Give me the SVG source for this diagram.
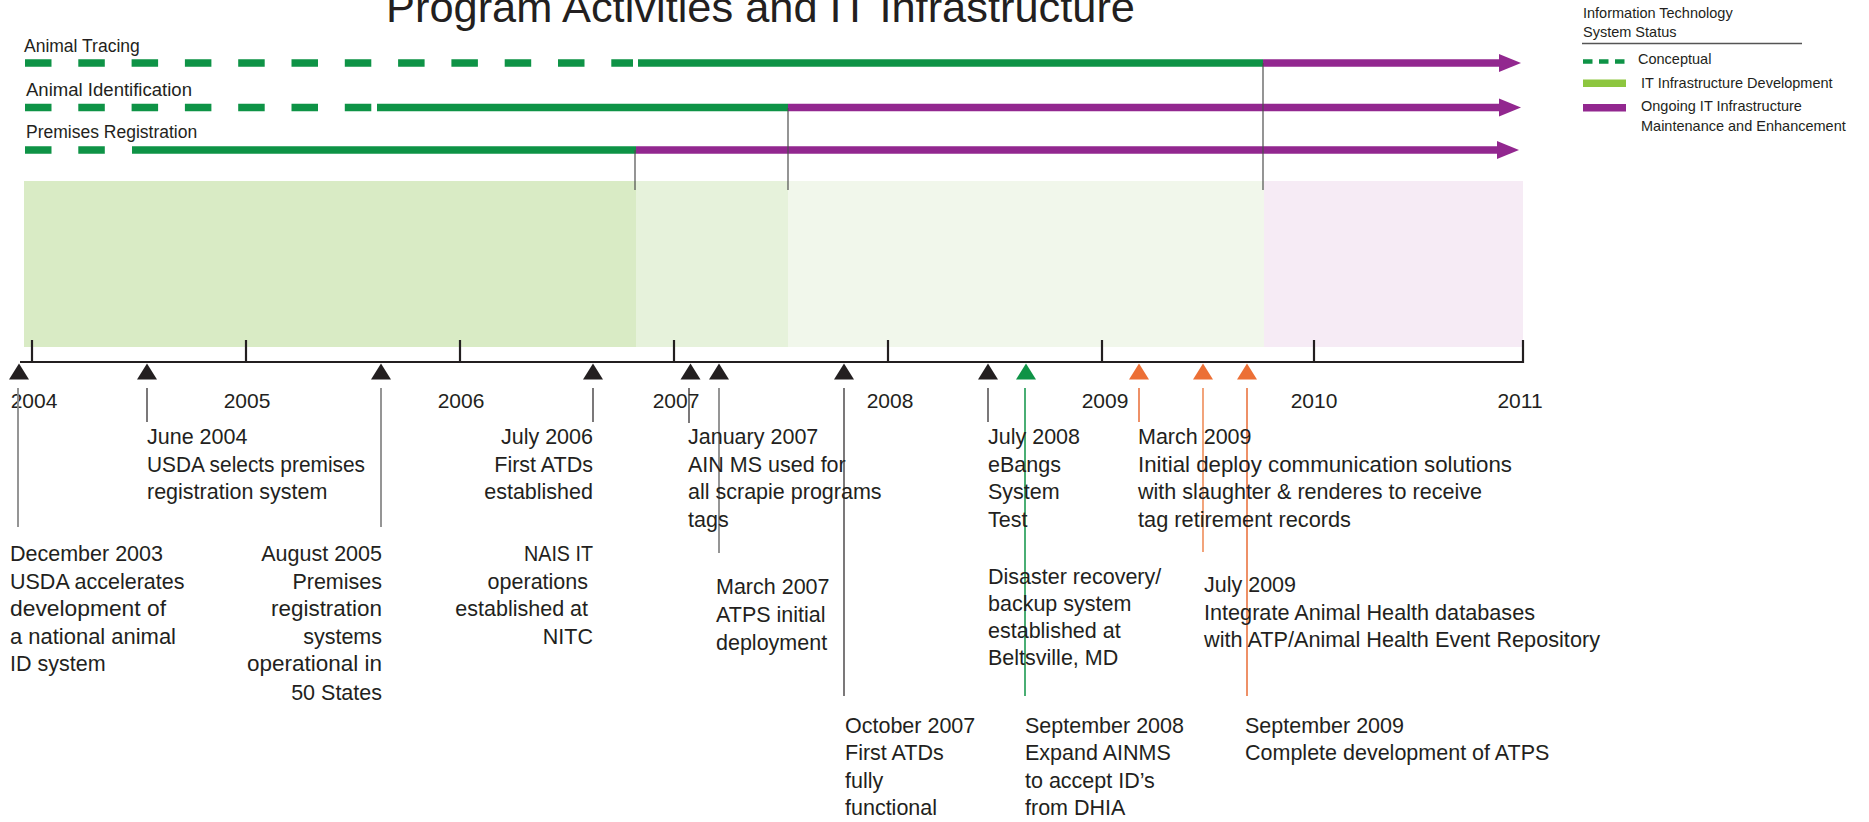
<svg xmlns="http://www.w3.org/2000/svg" width="1869" height="822" viewBox="0 0 1869 822">
<style>
text{font-family:"Liberation Sans",Arial,sans-serif;fill:#231f20}
.ev{font-size:21.5px}
.yr{font-size:21px;text-anchor:middle}
.trk{font-size:17.5px}
.lg{font-size:14.5px}
.end{text-anchor:end}
.dash{stroke:#0e9346;stroke-width:7.5;stroke-dasharray:26.5 26.8;fill:none}
.dev{stroke:#0e9346;stroke-width:7.5;fill:none}
.mnt{stroke:#92278f;stroke-width:7.5;fill:none}
.sep{stroke:#4d4d4d;stroke-width:1.2}
.tick{stroke:#231f20;stroke-width:2.2}
.ld{stroke:#231f20;stroke-width:1.2}
.ldg{stroke:#8a8a8a;stroke-width:1.8}
.ldgr{stroke:#0e9346;stroke-width:1.5}
.ldo{stroke:#e96b35;stroke-width:1.5}
.ldlo{stroke:#f19a6c;stroke-width:1.8}
.tri{fill:#231f20}
.trig{fill:#0e9346}
.trio{fill:#ec6f35}
</style>
<defs>
<polygon id="ah" points="0,-9 22,0 0,9" fill="#92278f"/>
<polygon id="tr" points="0,0 -10,16 10,16"/>
</defs>

<text id="title" x="386" y="22" font-size="43" textLength="749" lengthAdjust="spacingAndGlyphs">Program Activities and IT Infrastructure</text>

<g id="bands">
<rect x="24" y="181" width="612" height="166" fill="#d9ebc5"/>
<rect x="636" y="181" width="152" height="166" fill="#e6f2db"/>
<rect x="788" y="181" width="476" height="166" fill="#f1f7eb"/>
<rect x="1264" y="181" width="259" height="166" fill="#f6ebf5"/>
</g>

<g id="track-animal-tracing">
<text class="trk" x="24" y="52">Animal Tracing</text>
<line class="dash" x1="25" y1="63" x2="633" y2="63"/>
<line class="dev" x1="638" y1="63" x2="1263" y2="63"/>
<line class="mnt" x1="1263" y1="63" x2="1502" y2="63"/>
<use href="#ah" x="1499" y="63"/>
</g>
<g id="track-animal-identification">
<text class="trk" x="26" y="96" textLength="166" lengthAdjust="spacingAndGlyphs">Animal Identification</text>
<line class="dash" x1="25" y1="107.5" x2="372" y2="107.5"/>
<line class="dev" x1="377" y1="107.5" x2="788" y2="107.5"/>
<line class="mnt" x1="788" y1="107.5" x2="1502" y2="107.5"/>
<use href="#ah" x="1499" y="107.5"/>
</g>
<g id="track-premises-registration">
<text class="trk" x="26" y="138">Premises Registration</text>
<line class="dash" x1="25" y1="150" x2="107" y2="150"/>
<line class="dev" x1="132" y1="150" x2="636" y2="150"/>
<line class="mnt" x1="636" y1="150" x2="1500" y2="150"/>
<use href="#ah" x="1497" y="150"/>
</g>
<g id="phase-separators">
<line class="sep" x1="635" y1="150" x2="635" y2="190"/>
<line class="sep" x1="788" y1="108" x2="788" y2="190"/>
<line class="sep" x1="1263" y1="63" x2="1263" y2="190"/>
</g>

<g id="legend">
<text class="lg" x="1583" y="18">Information Technology</text>
<text class="lg" x="1583" y="37">System Status</text>
<line x1="1582" y1="43.5" x2="1802" y2="43.5" stroke="#555" stroke-width="1.3"/>
<line x1="1583" y1="61.5" x2="1625" y2="61.5" stroke="#0e9346" stroke-width="4.5" stroke-dasharray="9.5 6.5"/>
<text class="lg" x="1638" y="64">Conceptual</text>
<rect x="1583" y="79.5" width="43" height="7.5" fill="#8dc63f"/>
<text class="lg" x="1641" y="88">IT Infrastructure Development</text>
<rect x="1583" y="104" width="43" height="7.5" fill="#92278f"/>
<text class="lg" x="1641" y="111">Ongoing IT Infrastructure</text>
<text class="lg" x="1641" y="131">Maintenance and Enhancement</text>
</g>

<g id="timeline">
<line class="tick" x1="20" y1="362" x2="1524" y2="362"/>
<line class="tick" x1="32" y1="340" x2="32" y2="362"/>
<line class="tick" x1="246" y1="340" x2="246" y2="362"/>
<line class="tick" x1="460" y1="340" x2="460" y2="362"/>
<line class="tick" x1="674" y1="340" x2="674" y2="362"/>
<line class="tick" x1="888" y1="340" x2="888" y2="362"/>
<line class="tick" x1="1102" y1="340" x2="1102" y2="362"/>
<line class="tick" x1="1314" y1="340" x2="1314" y2="362"/>
<line class="tick" x1="1523" y1="340" x2="1523" y2="363"/>
<text class="yr" x="34" y="408">2004</text>
<text class="yr" x="247" y="408">2005</text>
<text class="yr" x="461" y="408">2006</text>
<text class="yr" x="676" y="408">2007</text>
<text class="yr" x="890" y="408">2008</text>
<text class="yr" x="1105" y="408">2009</text>
<text class="yr" x="1314" y="408">2010</text>
<text class="yr" x="1520" y="408">2011</text>
</g>

<g id="connectors">
<line class="ldg" x1="18" y1="388" x2="18" y2="527"/>
<line class="ld" x1="147" y1="388" x2="147" y2="422"/>
<line class="ldg" x1="381" y1="388" x2="381" y2="527"/>
<line class="ld" x1="593" y1="388" x2="593" y2="422"/>
<line class="ld" x1="689" y1="388" x2="689" y2="423"/>
<line class="ldg" x1="719" y1="388" x2="719" y2="553"/>
<line class="ld" x1="844" y1="388" x2="844" y2="696"/>
<line class="ld" x1="988" y1="388" x2="988" y2="422"/>
<line class="ldgr" x1="1025" y1="388" x2="1025" y2="696"/>
<line class="ldo" x1="1139" y1="388" x2="1139" y2="422"/>
<line class="ldlo" x1="1203" y1="388" x2="1203" y2="552"/>
<line class="ldo" x1="1247" y1="388" x2="1247" y2="696"/>
</g>

<g id="ev-dec2003">
<use href="#tr" class="tri" x="19" y="363.5"/>
<text class="ev" x="10" y="561">December 2003</text>
<text class="ev" x="10" y="588.5">USDA accelerates</text>
<text class="ev" x="10" y="616" textLength="156" lengthAdjust="spacingAndGlyphs">development of</text>
<text class="ev" x="10" y="643.5" textLength="166" lengthAdjust="spacingAndGlyphs">a national animal</text>
<text class="ev" x="10" y="671">ID system</text>
</g>
<g id="ev-jun2004">
<use href="#tr" class="tri" x="147" y="363.5"/>
<text class="ev" x="147" y="444">June 2004</text>
<text class="ev" x="147" y="471.5" textLength="218" lengthAdjust="spacingAndGlyphs">USDA selects premises</text>
<text class="ev" x="147" y="499">registration system</text>
</g>
<g id="ev-aug2005">
<use href="#tr" class="tri" x="381" y="363.5"/>
<text class="ev end" x="382" y="561">August 2005</text>
<text class="ev end" x="382" y="588.5">Premises</text>
<text class="ev end" x="382" y="616" textLength="111" lengthAdjust="spacingAndGlyphs">registration</text>
<text class="ev end" x="382" y="643.5">systems</text>
<text class="ev end" x="382" y="671" textLength="135" lengthAdjust="spacingAndGlyphs">operational in</text>
<text class="ev end" x="382" y="700">50 States</text>
</g>
<g id="ev-jul2006">
<use href="#tr" class="tri" x="593" y="363.5"/>
<text class="ev end" x="593" y="444">July 2006</text>
<text class="ev end" x="593" y="471.5">First ATDs</text>
<text class="ev end" x="593" y="499">established</text>
<text class="ev end" x="593" y="561" textLength="69" lengthAdjust="spacingAndGlyphs">NAIS IT</text>
<text class="ev end" x="588" y="588.5">operations</text>
<text class="ev end" x="588" y="616">established at</text>
<text class="ev end" x="593" y="643.5">NITC</text>
</g>
<g id="ev-jan2007">
<use href="#tr" class="tri" x="690.5" y="363.5"/>
<text class="ev" x="688" y="444">January 2007</text>
<text class="ev" x="688" y="471.5">AIN MS used for</text>
<text class="ev" x="688" y="499">all scrapie programs</text>
<text class="ev" x="688" y="526.5">tags</text>
</g>
<g id="ev-mar2007">
<use href="#tr" class="tri" x="719" y="363.5"/>
<text class="ev" x="716" y="593.5">March 2007</text>
<text class="ev" x="716" y="621.5">ATPS initial</text>
<text class="ev" x="716" y="649.5">deployment</text>
</g>
<g id="ev-oct2007">
<use href="#tr" class="tri" x="844" y="363.5"/>
<text class="ev" x="845" y="732.5">October 2007</text>
<text class="ev" x="845" y="760">First ATDs</text>
<text class="ev" x="845" y="787.5">fully</text>
<text class="ev" x="845" y="815">functional</text>
</g>
<g id="ev-jul2008">
<use href="#tr" class="tri" x="988" y="363.5"/>
<text class="ev" x="988" y="444">July 2008</text>
<text class="ev" x="988" y="471.5">eBangs</text>
<text class="ev" x="988" y="499">System</text>
<text class="ev" x="988" y="526.5">Test</text>
<text class="ev" x="988" y="583.5">Disaster recovery/</text>
<text class="ev" x="988" y="611">backup system</text>
<text class="ev" x="988" y="638">established at</text>
<text class="ev" x="988" y="665">Beltsville, MD</text>
</g>
<g id="ev-sep2008">
<use href="#tr" class="trig" x="1026" y="363.5"/>
<text class="ev" x="1025" y="732.5">September 2008</text>
<text class="ev" x="1025" y="760">Expand AINMS</text>
<text class="ev" x="1025" y="787.5">to accept ID’s</text>
<text class="ev" x="1025" y="815">from DHIA</text>
</g>
<g id="ev-mar2009">
<use href="#tr" class="trio" x="1139" y="363.5"/>
<text class="ev" x="1138" y="444">March 2009</text>
<text class="ev" x="1138" y="471.5" textLength="374" lengthAdjust="spacingAndGlyphs">Initial deploy communication solutions</text>
<text class="ev" x="1138" y="499" textLength="344" lengthAdjust="spacingAndGlyphs">with slaughter &amp; renderes to receive</text>
<text class="ev" x="1138" y="526.5" textLength="213" lengthAdjust="spacingAndGlyphs">tag retirement records</text>
</g>
<g id="ev-jul2009">
<use href="#tr" class="trio" x="1203" y="363.5"/>
<text class="ev" x="1204" y="592">July 2009</text>
<text class="ev" x="1204" y="619.5" textLength="331" lengthAdjust="spacingAndGlyphs">Integrate Animal Health databases</text>
<text class="ev" x="1204" y="647" textLength="396" lengthAdjust="spacingAndGlyphs">with ATP/Animal Health Event Repository</text>
</g>
<g id="ev-sep2009">
<use href="#tr" class="trio" x="1247" y="363.5"/>
<text class="ev" x="1245" y="732.5">September 2009</text>
<text class="ev" x="1245" y="760">Complete development of ATPS</text>
</g>
</svg>
